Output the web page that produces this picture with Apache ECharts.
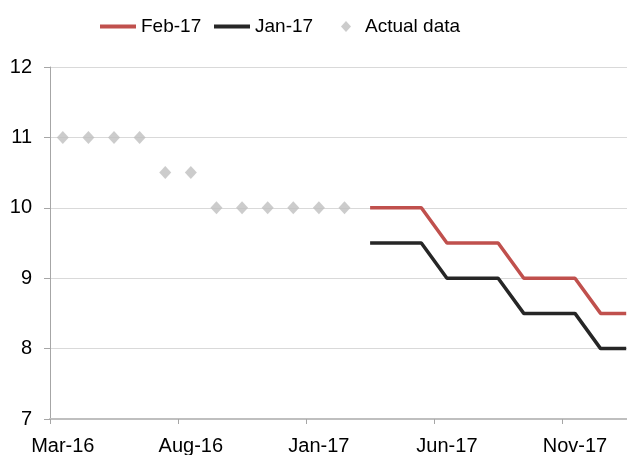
<!DOCTYPE html>
<html>
<head>
<meta charset="utf-8">
<script src="https://cdn.jsdelivr.net/npm/echarts@6/dist/echarts.min.js"></script>
<style>
  html, body { margin: 0; padding: 0; background: #fff; }
  #chart { width: 627px; height: 455px; }
</style>
</head>
<body>
<div id="chart"></div>
<script>
// months from Mar-16 to Jan-18
var months = ['Mar-16', 'Apr-16', 'May-16', 'Jun-16', 'Jul-16', 'Aug-16', 'Sep-16', 'Oct-16',
  'Nov-16', 'Dec-16', 'Jan-17', 'Feb-17', 'Mar-17', 'Apr-17', 'May-17', 'Jun-17', 'Jul-17',
  'Aug-17', 'Sep-17', 'Oct-17', 'Nov-17', 'Dec-17', 'Jan-18'];

var actualData = [11, 11, 11, 11, 10.5, 10.5, 10, 10, 10, 10, 10, 10,
  null, null, null, null, null, null, null, null, null, null, null];

var feb17 = [null, null, null, null, null, null, null, null, null, null, null, null,
  10, 10, 10, 9.5, 9.5, 9.5, 9, 9, 9, 8.5, 8.5];

var jan17 = [null, null, null, null, null, null, null, null, null, null, null, null,
  9.5, 9.5, 9.5, 9, 9, 9, 8.5, 8.5, 8.5, 8, 8];

var colors = {
  red: '#C0504D',
  black: '#262626',
  gray: '#BFBFBF',
  grid: '#D9D9D9',
  axis: '#A6A6A6',
  text: '#000000'
};

var legendText = { fontSize: 19, color: colors.text };

var chart = echarts.init(document.getElementById('chart'));

chart.setOption({
  animation: false,
  textStyle: { fontFamily: 'Liberation Sans, Arial, sans-serif' },
  legend: [
    {
      left: 95, top: 12, itemWidth: 36, itemHeight: 4,
      data: [{ name: 'Feb-17', icon: 'rect' }],
      textStyle: legendText
    },
    {
      left: 209, top: 12, itemWidth: 36, itemHeight: 4,
      data: [{ name: 'Jan-17', icon: 'rect' }],
      textStyle: legendText
    },
    {
      left: 336, top: 12, itemWidth: 10, itemHeight: 11,
      data: [{ name: 'Actual data', icon: 'diamond' }],
      textStyle: { fontSize: 19, color: colors.text, padding: [0, 0, 0, 9] }
    }
  ],
  grid: { left: 50, right: -12, top: 67, bottom: 36, containLabel: false, outerBoundsMode: 'none' },
  xAxis: {
    type: 'category',
    data: months,
    boundaryGap: true,
    axisLine: { lineStyle: { color: colors.gray, width: 2 } },
    axisTick: { show: true, interval: 4, length: 5, lineStyle: { color: colors.axis } },
    axisLabel: { interval: 4, fontSize: 20, color: colors.text, margin: 17 },
    splitLine: { show: false }
  },
  yAxis: {
    type: 'value',
    min: 7,
    max: 12,
    interval: 1,
    axisLine: { show: true, lineStyle: { color: colors.axis } },
    axisTick: { show: true, length: 6, lineStyle: { color: colors.axis } },
    axisLabel: { fontSize: 20, color: colors.text, margin: 18 },
    splitLine: { lineStyle: { color: colors.grid } }
  },
  series: [
    {
      name: 'Actual data',
      type: 'scatter',
      data: actualData,
      symbol: 'diamond',
      symbolSize: [12, 13],
      itemStyle: { color: colors.gray }
    },
    {
      name: 'Feb-17',
      type: 'line',
      data: feb17,
      symbol: 'none',
      lineStyle: { color: colors.red, width: 3.5 },
      itemStyle: { color: colors.red }
    },
    {
      name: 'Jan-17',
      type: 'line',
      data: jan17,
      symbol: 'none',
      lineStyle: { color: colors.black, width: 3.5 },
      itemStyle: { color: colors.black }
    }
  ]
});

window.addEventListener('resize', function() { chart.resize(); });
</script>
</body>
</html>
